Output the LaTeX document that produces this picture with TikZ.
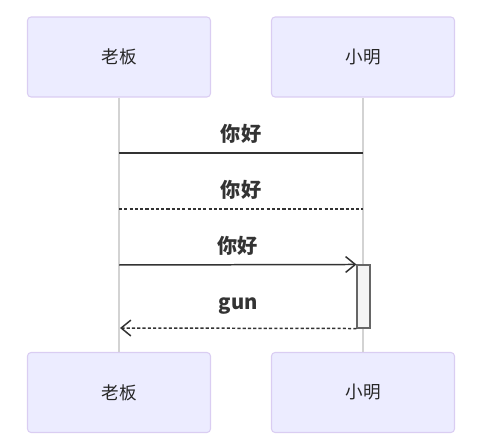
\documentclass[tikz,border=0pt]{standalone}
\usepackage{fontspec}
\setmainfont{Noto Sans CJK SC}
\usepackage{xcolor}
\usepackage{tikz}
\usetikzlibrary{arrows.meta,positioning}
\definecolor{actorfill}{HTML}{ECECFF}
\definecolor{actorline}{HTML}{DACDF2}
\definecolor{lifegray}{HTML}{D3D3D3}
\definecolor{msgline}{HTML}{333333}
\definecolor{actfill}{HTML}{F4F4F4}
\definecolor{actline}{HTML}{666666}
\tikzset{
  actorbox/.style={
    rectangle, rounded corners=2pt, draw=actorline, fill=actorfill, line width=0.6pt,
    minimum width=3.66cm, minimum height=1.6cm,
    font=\fontsize{10}{12}\selectfont, text=black!85, align=center
  },
  lifeline/.style={draw=lifegray, line width=0.8pt},
  msgline/.style={draw=msgline, line width=0.85pt},
  msgdash/.style={msgline, dash pattern=on 1.8pt off 1.2pt},
  msgarrow/.style={-{Straight Barb[length=5.5pt,width=9pt]}},
  msglabel/.style={font=\fontsize{11.5}{13}\selectfont\bfseries, text=black!80, inner sep=0pt},
  actbar/.style={rectangle, draw=actline, fill=actfill, line width=0.6pt,
    minimum width=0.26cm, minimum height=1.26cm, inner sep=0pt},
}
\begin{document}
\begin{tikzpicture}[x=0.02cm, y=-0.02cm]
  \useasboundingbox (0,0) rectangle (500,435);
  % actors
  \node[actorbox] (boss) at (119,57) {老板};
  \node[actorbox] (ming) at (363,57) {小明};
  \node[actorbox] (bossb) at (119,392.5) {老板};
  \node[actorbox] (mingb) at (363,392.5) {小明};
  \draw[lifeline] (boss) -- (bossb);
  \draw[lifeline] (ming) -- (mingb);
  % messages
  \coordinate (m1a) at (119,153);
  \coordinate (m1b) at (363,153);
  \coordinate (m2a) at (119,209);
  \coordinate (m2b) at (363,209);
  \coordinate (m3a) at (119,265);
  \coordinate (m4b) at (120,328);
  \node[actbar] (act) at (363.5,296.5) {};
  \draw[msgline] (m1a) -- node[msglabel, above=0.18cm] {你好} (m1b);
  \draw[msgdash] (m2a) -- node[msglabel, above=0.18cm] {你好} (m2b);
  \draw[msgline, msgarrow] (m3a) -- node[msglabel, above=0.18cm] {你好} (act.north west);
  \draw[msgdash, msgarrow] (act.south west) -- node[msglabel, above=0.27cm] {gun} (m4b);
\end{tikzpicture}
\end{document}
